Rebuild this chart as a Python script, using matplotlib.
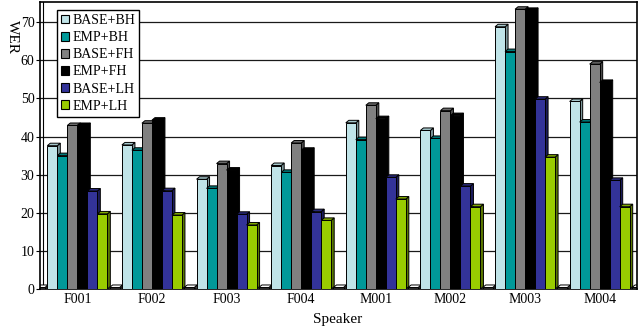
import numpy as np
import matplotlib; matplotlib.use("Agg")
import matplotlib.pyplot as plt
from matplotlib.patches import Polygon, Patch

plt.rcParams['font.family'] = ['Liberation Serif', 'DejaVu Serif']

speakers = ['F001', 'F002', 'F003', 'F004', 'M001', 'M002', 'M003', 'M004']
labels = ['BASE+BH', 'EMP+BH', 'BASE+FH', 'EMP+FH', 'BASE+LH', 'EMP+LH']
base_bh = [37.6, 37.8, 28.8, 32.4, 43.6, 41.6, 68.8, 49.2]
emp_bh  = [35.0, 36.4, 26.4, 30.6, 39.2, 39.5, 62.3, 43.8]
base_fh = [42.9, 43.5, 32.9, 38.3, 48.2, 46.8, 73.4, 59.0]
emp_fh  = [42.9, 44.3, 31.2, 36.4, 44.7, 45.5, 73.1, 54.2]
base_lh = [25.7, 25.8, 19.6, 20.3, 29.3, 27.0, 49.8, 28.5]
emp_lh  = [19.7, 19.4, 16.8, 18.0, 23.6, 21.6, 34.6, 21.6]
gap_vals = [0.4, 0.4, 0.4, 0.4, 0.4, 0.4, 0.4, 0.4, 0.4]   # tiny empty bars between groups

series = [base_bh, emp_bh, base_fh, emp_fh, base_lh, emp_lh]
FRONT = ['#c0e4e8', '#009999', '#808080', '#000000', '#333399', '#99cc00']
SIDE  = ['#7d979a', '#005f5f', '#4a4a4a', '#000000', '#1c1c5c', '#5a7800']
TOP   = ['#a6c8cc', '#007a7a', '#6a6a6a', '#000000', '#29297a', '#7fa800']

fig = plt.figure(figsize=(6.4, 3.29), dpi=100)
ax = fig.add_axes([40/640, 1-289/329, 597/640, 287/329])
YMAX = 75.3
ax.set_xlim(-0.5, 7.5); ax.set_ylim(0, YMAX)

x = np.arange(len(speakers))
w = 10/74.6          # bar width (groups)
dx, dy = 3/74.6, 2.5/3.81   # 3d depth offset in data units

def bar3d(xs, vals, front, side, top, z):
    for xi, v in zip(xs, vals):
        l, r = xi - w/2, xi + w/2
        ax.add_patch(Polygon([(r, 0), (r+dx, dy), (r+dx, v+dy), (r, v)],
                             fc=side, ec='k', lw=0.7, zorder=z))
        ax.add_patch(Polygon([(l, v), (l+dx, v+dy), (r+dx, v+dy), (r, v)],
                             fc=top, ec='k', lw=0.7, zorder=z))
    ax.bar(xs, vals, w, color=front, ec='k', lw=0.7, zorder=z)

gx = np.arange(len(gap_vals)) - 0.5
bar3d(gx, gap_vals, 'white', 'white', 'white', 2.5)
for k, vals in enumerate(series):
    bar3d(x + (k-2.5)*w, vals, FRONT[k], SIDE[k], TOP[k], 3+k)

ax.set_yticks(range(0, 71, 10))
ax.grid(axis='y', color='#1a1a1a', lw=0.9)
ax.set_axisbelow(True)
ax.plot([-0.5+dx]*2, [dy, YMAX], color='k', lw=0.8, zorder=2)
for s in ax.spines.values():
    s.set_color('k'); s.set_linewidth(1.2)
ax.set_xticks(x); ax.set_xticklabels(speakers)
ax.tick_params(axis='y', direction='out', length=3, labelsize=10, pad=1)
ax.tick_params(axis='x', length=0, labelsize=10, pad=3)

handles = [Patch(fc=c, ec='k', lw=0.8) for c in FRONT]
lg = ax.legend(handles, labels, loc='upper left', bbox_to_anchor=(0.028, 0.972),
               fancybox=False, edgecolor='k', framealpha=1, fontsize=10,
               handlelength=0.6, handleheight=0.6, handletextpad=0.25,
               borderpad=0.28, labelspacing=0.3, borderaxespad=0)
lg.get_frame().set_linewidth(1.0)
lg.set_zorder(20)

fig.text(12/640, 1-37/329, 'WER', rotation=-90, ha='center', va='center', fontsize=11)
fig.text(338/640, 1-320/329, 'Speaker', ha='center', va='center', fontsize=11)

fig.savefig('out.png', dpi=100, facecolor='white')
